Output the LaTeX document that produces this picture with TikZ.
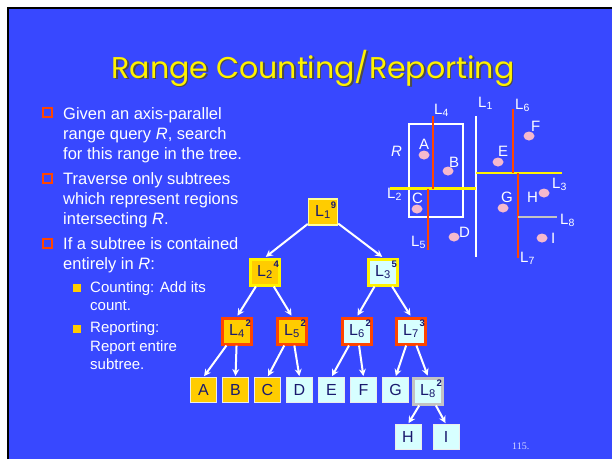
\documentclass[tikz,border=0pt]{standalone}
\usepackage{fontspec}
\setmainfont{Liberation Sans}
\newfontfamily\titlefont{Poppins}
\newfontfamily\pagefont{Liberation Serif}
\usepackage{tikz}
\usetikzlibrary{arrows.meta,positioning,shapes.geometric}
\definecolor{slideblue}{RGB}{56,72,255}
\definecolor{nodeyellow}{RGB}{255,204,0}
\definecolor{nodecyan}{RGB}{215,255,255}
\definecolor{cutred}{RGB}{255,69,0}
\definecolor{navytext}{RGB}{25,25,110}
\definecolor{ptpink}{RGB}{245,185,205}
\definecolor{cutgray}{RGB}{195,195,195}
\definecolor{paleyellow}{RGB}{255,255,150}
\newcommand{\cutname}[1]{L\textsubscript{#1}\hspace{4pt}}
\tikzset{
  titletext/.style={font=\titlefont\fontsize{30}{32}\selectfont, text=yellow, inner sep=0pt},
  bultext/.style={anchor=north west, align=left, inner sep=0pt, text=white, font=\fontsize{16.5}{20.3}\selectfont},
  subtext/.style={bultext, font=\fontsize{15}{18.5}\selectfont},
  redsq/.style={rectangle, draw=cutred, line width=1.6pt, minimum size=9pt, inner sep=0pt},
  yelsq/.style={rectangle, fill=nodeyellow, minimum size=8pt, inner sep=0pt},
  tbox/.style={rectangle, inner sep=0pt, text=navytext, font=\fontsize{16}{16}\selectfont, minimum width=29pt, minimum height=26pt},
  tboxy/.style={tbox, fill=nodeyellow},
  tboxc/.style={tbox, fill=nodecyan},
  leaf/.style={tbox, draw=white!85!gray, line width=1pt, minimum width=26pt, minimum height=25pt},
  cnt/.style={anchor=north east, inner sep=0pt, xshift=-2pt, yshift=-3.5pt, text=navytext, font=\fontsize{9.5}{9.5}\selectfont\bfseries},
  tarrow/.style={-{Stealth[length=7pt,width=7pt]}, white, line width=2pt, shorten >=1pt},
  cutline/.style={line width=2.5pt},
  pt/.style={ellipse, fill=ptpink, minimum width=11pt, minimum height=9pt, inner sep=0pt},
  cutlabel/.style={anchor=base west, inner sep=0pt, text=white, font=\fontsize{15}{15}\selectfont}
}

\begin{document}
\begin{tikzpicture}[x=1pt, y=-1pt, node distance=5pt]
\useasboundingbox (0,0) rectangle (612,459);
% slide
\fill[white] (0,0) rectangle (612,459);
\fill[slideblue] (8,8) rectangle (612,459);
\draw[black, line width=2.5pt] (8,459) -- (8,8) -- (612,8);

% title
\node[titletext, text=black!70, anchor=base] (titleshadow) at (314.5,79.5) {Range Counting/Reporting};
\node[titletext, anchor=base] (title) at (313,78) {Range Counting/Reporting};

% bullets
\node[redsq] (q1) at (47.5,112.5) {};
\node[redsq] (q2) at (47.5,178.5) {};
\node[redsq] (q3) at (47.5,243.5) {};
\node[yelsq] (s1) at (76.5,288) {};
\node[yelsq] (s2) at (76.5,328.5) {};
\node[bultext] (b1) at (63,107) {Given an axis-parallel\\range query \textit{R}, search\\for this range in the tree.};
\node[bultext] (b2) at (63,172) {Traverse only subtrees\\which represent regions\\intersecting \textit{R}.};
\node[bultext] (b3) at (63,237) {If a subtree is contained\\entirely in \textit{R}:};
\node[subtext] (c1) at (90,281) {Counting: Add its\\count.};
\node[subtext] (c2) at (90,321.5) {Reporting:\\Report entire\\subtree.};

% tree
\node[tboxy, draw=paleyellow, line width=1.5pt, label={[cnt]north east:9}] (l1) at (323,212) {\cutname{1}};
\node[tboxy, draw=yellow, line width=3pt, label={[cnt]north east:4}] (l2) at (265,272) {\cutname{2}};
\node[tboxc, draw=yellow, line width=3pt, label={[cnt]north east:5}] (l3) at (383,272) {\cutname{3}};
\node[tboxy, draw=cutred, line width=3pt, label={[cnt]north east:2}] (l4) at (237,331) {\cutname{4}};
\node[tboxy, draw=cutred, line width=3pt, label={[cnt]north east:2}] (l5) at (292,331) {\cutname{5}};
\node[tboxc, draw=cutred, line width=3pt, label={[cnt]north east:2}] (l6) at (357,331) {\cutname{6}};
\node[tboxc, draw=cutred, line width=3pt, label={[cnt]north east:3}] (l7) at (411,331) {\cutname{7}};
\node[leaf, fill=nodeyellow] (a) at (203.5,390) {A};
\node[leaf, fill=nodeyellow, right=of a] (b) {B};
\node[leaf, fill=nodeyellow, right=of b] (c) {C};
\node[leaf, fill=nodecyan, right=of c] (d) {D};
\node[leaf, fill=nodecyan, right=of d] (e) {E};
\node[leaf, fill=nodecyan, right=of e] (f) {F};
\node[leaf, fill=nodecyan, right=of f] (g) {G};
\node[tboxc, draw=cutgray, line width=3pt, label={[cnt]north east:2}] (l8) at (428,391) {\cutname{8}};
\node[leaf, fill=nodecyan] (h) at (408,437) {H};
\node[leaf, fill=nodecyan] (i) at (446,437) {I};
\draw[tarrow] (l1) -- (l2.north);
\draw[tarrow] (l1) -- (l3.north);
\draw[tarrow] (l2) -- (l4.north);
\draw[tarrow] (l2) -- (l5.north);
\draw[tarrow] (l3) -- (l6.north);
\draw[tarrow] (l3) -- (l7.north);
\draw[tarrow] (l4) -- (a.north);
\draw[tarrow] (l4) -- (b.north);
\draw[tarrow] (l5) -- (c.north);
\draw[tarrow] (l5) -- (d.north);
\draw[tarrow] (l6) -- (e.north);
\draw[tarrow] (l6) -- (f.north);
\draw[tarrow] (l7) -- (g.north);
\draw[tarrow] (l7) -- (l8.north);
\draw[tarrow] (l8) -- (h.north);
\draw[tarrow] (l8) -- (i.north);

% plane with cuts
\draw[white, line width=2pt] (409,124) rectangle (463,217);
\draw[cutline, white] (476,116) -- (476,257);
\draw[cutline, yellow] (390,188.5) -- (476,188.5);
\draw[cutline, yellow] (476,173) -- (562,173);
\draw[cutline, cutred] (433,116) -- (433,188.5);
\draw[cutline, cutred] (428,188.5) -- (428,250);
\draw[cutline, cutred] (513,109) -- (513,173);
\draw[cutline, cutred] (518,173) -- (518,258);
\draw[cutline, cutgray] (518,217) -- (557,217);
\node[pt] (pa) at (424,155) {};
\node[pt] (pb) at (448,171) {};
\node[pt] (pc) at (417,209) {};
\node[pt] (pd) at (454,237) {};
\node[pt] (pe) at (498,162) {};
\node[pt] (pf) at (529,136) {};
\node[pt] (pg) at (503,208) {};
\node[pt] (ph) at (544,193) {};
\node[pt] (pi) at (542,238) {};
\node[cutlabel] (ta) at (419,149) {A};
\node[cutlabel] (tb) at (449,167) {B};
\node[cutlabel] (tc) at (412,203) {C};
\node[cutlabel] (td) at (459,237) {D};
\node[cutlabel] (te) at (498,156) {E};
\node[cutlabel] (tf) at (531,131) {F};
\node[cutlabel] (tg) at (501,202) {G};
\node[cutlabel] (th) at (527,202) {H};
\node[cutlabel] (ti) at (551,243) {I};
\node[cutlabel] (tr) at (391,156) {\textit{R}};
\node[cutlabel] (tl1) at (478,107) {L\textsubscript{1}};
\node[cutlabel] (tl2) at (387,198) {L\textsubscript{2}};
\node[cutlabel] (tl3) at (552,188) {L\textsubscript{3}};
\node[cutlabel] (tl4) at (434,114) {L\textsubscript{4}};
\node[cutlabel] (tl5) at (411,246) {L\textsubscript{5}};
\node[cutlabel] (tl6) at (515,109) {L\textsubscript{6}};
\node[cutlabel] (tl7) at (520,262) {L\textsubscript{7}};
\node[cutlabel] (tl8) at (560,224) {L\textsubscript{8}};

% page number
\node[anchor=base west, inner sep=0pt, text=white!80!slideblue, font=\pagefont\fontsize{10}{10}\selectfont] (pnum) at (512,449) {115.};
\end{tikzpicture}
\end{document}
